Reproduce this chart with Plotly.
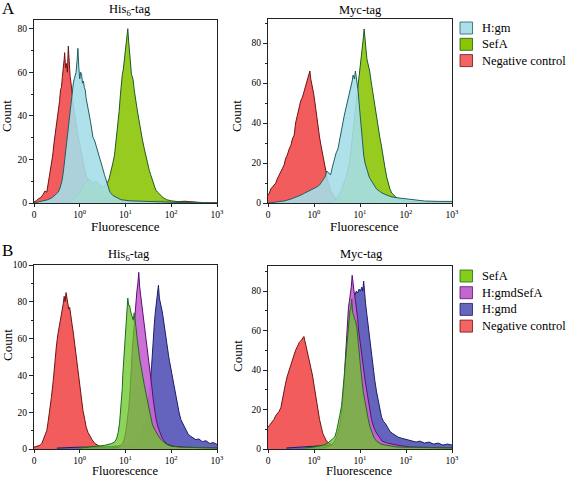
import plotly.graph_objects as go

SERIF = "Liberation Serif"
W, H = 567, 478

# ---------------- data (x in display units: 0 -> "0", 1 -> 10^0, 2 -> 10^1, 3 -> 10^2, 4 -> 10^3) -------------
X_TICKVALS = [0, 1, 2, 3, 4]
X_TICKTEXT = ["0", "10<sup>0</sup>", "10<sup>1</sup>", "10<sup>2</sup>", "10<sup>3</sup>"]

# Panel A, His6-tag
a1_neg_x = [0.00, 0.05, 0.10, 0.15, 0.20, 0.24, 0.28, 0.31, 0.34, 0.38, 0.41, 0.44, 0.46, 0.49, 0.51, 0.53, 0.56, 0.58, 0.60, 0.62, 0.64, 0.66, 0.67, 0.69, 0.71, 0.73, 0.75, 0.77, 0.79, 0.81, 0.83, 0.86, 0.89, 0.92, 0.96, 1.00, 1.05, 1.10, 1.15, 1.20, 1.30, 1.40, 1.55, 1.70, 2.00, 2.40, 2.80, 3.00, 3.30, 3.60, 4.00]
a1_neg_y = [0.5, 1, 2, 2.5, 4, 5.5, 5, 9, 12, 18, 22, 28, 31, 35, 40, 43, 47, 52, 53, 58, 61, 66, 69, 62, 64, 60, 72, 61, 58, 55, 50, 45, 41, 36, 31, 27, 21, 16, 12, 9, 6, 4, 2.5, 1.5, 1, 0.6, 1, 0.5, 0.8, 0.3, 0]
a1_hgm_x = [0.00, 0.10, 0.20, 0.30, 0.40, 0.48, 0.53, 0.57, 0.61, 0.64, 0.67, 0.70, 0.73, 0.76, 0.78, 0.80, 0.82, 0.84, 0.86, 0.88, 0.90, 0.92, 0.94, 0.96, 0.98, 1.00, 1.02, 1.04, 1.06, 1.08, 1.10, 1.12, 1.14, 1.17, 1.20, 1.23, 1.26, 1.29, 1.32, 1.35, 1.38, 1.42, 1.46, 1.50, 1.54, 1.58, 1.62, 1.66, 1.72, 1.80, 1.90, 2.10, 2.40, 2.80, 3.20, 4.00]
a1_hgm_y = [0, 0.5, 1, 1.5, 2.5, 4, 5, 7, 10, 14, 20, 25, 30, 36, 40, 44, 48, 51, 55, 57, 59, 60, 65, 71, 62, 57, 60, 59, 55, 56, 53, 52, 48, 45, 42, 38, 34, 30, 29, 27, 24, 22, 19, 16, 13, 10, 7, 5, 3.5, 2.5, 1.5, 1, 0.8, 0.3, 0.2, 0]
a1_sefa_x = [0.60, 0.80, 0.90, 1.00, 1.05, 1.10, 1.15, 1.20, 1.25, 1.30, 1.35, 1.40, 1.45, 1.50, 1.55, 1.60, 1.64, 1.68, 1.72, 1.76, 1.80, 1.83, 1.86, 1.89, 1.91, 1.93, 1.95, 1.97, 1.99, 2.01, 2.03, 2.05, 2.07, 2.09, 2.11, 2.13, 2.15, 2.17, 2.19, 2.21, 2.24, 2.27, 2.30, 2.33, 2.37, 2.41, 2.45, 2.48, 2.52, 2.55, 2.59, 2.62, 2.66, 2.70, 2.76, 2.82, 2.90, 3.00, 3.20, 3.50, 4.00]
a1_sefa_y = [0, 1, 3, 5, 7, 9, 10, 11, 10, 9, 10, 9, 8, 7, 8, 9, 11, 14, 18, 22, 29, 36, 42, 50, 56, 59, 61, 65, 69, 71, 75, 80, 74, 68, 65, 59, 58, 56, 52, 48, 45, 41, 37, 34, 29, 25, 21, 19, 15, 13, 10, 8, 6, 5, 3.5, 2.5, 1.5, 1, 0.5, 0.3, 0]

# Panel A, Myc-tag
a2_neg_x = [0.00, 0.03, 0.06, 0.10, 0.13, 0.17, 0.20, 0.24, 0.28, 0.31, 0.35, 0.38, 0.42, 0.46, 0.50, 0.53, 0.57, 0.60, 0.64, 0.67, 0.71, 0.75, 0.79, 0.82, 0.86, 0.89, 0.91, 0.93, 0.96, 0.99, 1.01, 1.04, 1.08, 1.12, 1.15, 1.19, 1.23, 1.27, 1.30, 1.34, 1.37, 1.42, 1.48, 1.56, 1.66, 1.90, 2.20, 2.50]
a2_neg_y = [4, 5, 7, 8, 9, 10, 12, 14, 16, 17, 19, 22, 24, 27, 29, 32, 34, 40, 44, 47, 51, 53, 56, 58, 61, 64, 66, 62, 59, 55, 52, 46, 39, 33, 29, 24, 19, 15, 11, 8, 6, 4, 2, 1.5, 1, 0.5, 0.3, 0]
a2_hgm_x = [0.00, 0.20, 0.35, 0.50, 0.62, 0.72, 0.80, 0.90, 1.00, 1.06, 1.12, 1.18, 1.24, 1.28, 1.32, 1.36, 1.40, 1.44, 1.48, 1.52, 1.55, 1.59, 1.62, 1.66, 1.70, 1.74, 1.77, 1.80, 1.83, 1.85, 1.88, 1.90, 1.92, 1.94, 1.96, 1.98, 2.00, 2.02, 2.05, 2.08, 2.11, 2.15, 2.20, 2.25, 2.30, 2.36, 2.42, 2.48, 2.58, 2.70, 2.85, 3.00, 3.20, 3.40, 3.70, 4.00]
a2_hgm_y = [0, 0.5, 1, 2, 3, 4, 5, 6, 7, 8, 9, 11, 13, 16, 15, 14, 18, 22, 25, 27, 31, 36, 40, 44, 48, 52, 55, 57, 61, 64, 62, 66, 63, 61, 56, 50, 44, 38, 30, 24, 20, 17, 13, 11, 9, 7, 6, 5, 4, 3, 2.5, 2, 1.5, 1, 0.8, 0.8]
a2_sefa_x = [1.20, 1.37, 1.48, 1.54, 1.59, 1.65, 1.70, 1.74, 1.77, 1.81, 1.85, 1.88, 1.91, 1.94, 1.96, 1.99, 2.01, 2.03, 2.05, 2.07, 2.09, 2.11, 2.13, 2.15, 2.18, 2.21, 2.24, 2.26, 2.29, 2.32, 2.35, 2.39, 2.43, 2.47, 2.50, 2.54, 2.58, 2.61, 2.65, 2.69, 2.75, 2.80, 2.90, 3.00, 3.30, 4.00]
a2_sefa_y = [0, 0.5, 2, 4, 6, 10, 13, 17, 20, 28, 36, 42, 48, 53, 58, 65, 70, 74, 78, 82, 87, 82, 78, 72, 69, 66, 61, 58, 53, 48, 43, 38, 33, 28, 23, 18, 13, 10, 7, 5, 3.5, 2.5, 1.5, 1, 0.5, 0.3]

# Panel B, His6-tag
b1_neg_x = [0.00, 0.07, 0.13, 0.17, 0.20, 0.24, 0.28, 0.31, 0.35, 0.38, 0.42, 0.45, 0.49, 0.52, 0.55, 0.57, 0.60, 0.62, 0.64, 0.66, 0.68, 0.70, 0.72, 0.74, 0.76, 0.78, 0.80, 0.83, 0.86, 0.89, 0.91, 0.94, 0.97, 1.00, 1.04, 1.07, 1.11, 1.14, 1.18, 1.22, 1.27, 1.33, 1.43, 1.55, 1.70, 2.00]
b1_neg_y = [1, 1.5, 2, 3, 5, 7, 10, 15, 21, 28, 37, 46, 56, 62, 66, 68, 72, 76, 79, 83, 80, 85, 81, 78, 76, 77, 72, 68, 63, 57, 52, 45, 38, 32, 26, 21, 16, 12, 9, 7, 5, 3, 1.5, 1, 0.5, 0]
b1_hgmd_x = [0.50, 1.00, 1.50, 2.00, 2.20, 2.30, 2.38, 2.43, 2.48, 2.51, 2.54, 2.57, 2.59, 2.61, 2.63, 2.65, 2.67, 2.69, 2.71, 2.72, 2.74, 2.76, 2.78, 2.80, 2.82, 2.84, 2.86, 2.88, 2.90, 2.92, 2.94, 2.96, 2.99, 3.02, 3.05, 3.08, 3.11, 3.14, 3.17, 3.21, 3.25, 3.29, 3.33, 3.37, 3.42, 3.48, 3.54, 3.60, 3.68, 3.76, 3.84, 3.92, 4.00]
b1_hgmd_y = [0.5, 1, 1, 2, 4, 6, 10, 14, 20, 27, 35, 45, 55, 62, 68, 74, 78, 83, 86, 89, 82, 80, 78, 75, 72, 68, 65, 62, 58, 55, 51, 48, 44, 40, 36, 31, 27, 23, 20, 16, 14, 12, 10, 8, 7, 6, 5, 5.5, 4, 4.5, 3, 3.5, 2.5]
b1_hgmdsefa_x = [1.70, 1.85, 1.94, 1.98, 2.01, 2.04, 2.07, 2.09, 2.11, 2.13, 2.15, 2.17, 2.19, 2.21, 2.23, 2.25, 2.27, 2.29, 2.31, 2.33, 2.35, 2.37, 2.39, 2.41, 2.43, 2.45, 2.47, 2.49, 2.52, 2.55, 2.58, 2.61, 2.64, 2.67, 2.71, 2.75, 2.80, 2.86, 2.92, 3.05, 3.30, 4.00]
b1_hgmdsefa_y = [0.5, 1, 3, 6, 10, 15, 22, 28, 35, 45, 55, 62, 70, 76, 82, 86, 90, 96, 88, 84, 80, 77, 74, 70, 66, 62, 58, 54, 48, 40, 33, 26, 20, 16, 12, 9, 6, 4, 2.5, 1.5, 1, 0.5]
b1_sefa_x = [1.00, 1.20, 1.40, 1.55, 1.70, 1.77, 1.81, 1.84, 1.87, 1.89, 1.91, 1.93, 1.94, 1.96, 1.98, 1.99, 2.01, 2.03, 2.04, 2.05, 2.07, 2.09, 2.11, 2.13, 2.15, 2.17, 2.19, 2.21, 2.23, 2.25, 2.27, 2.29, 2.31, 2.34, 2.38, 2.41, 2.45, 2.49, 2.52, 2.56, 2.59, 2.63, 2.67, 2.72, 2.78, 2.84, 2.90, 3.00, 3.20, 3.50, 4.00]
b1_sefa_y = [0.5, 1, 1.5, 2, 3, 4, 6, 9, 14, 19, 25, 33, 40, 48, 55, 62, 70, 76, 80, 82, 78, 78, 75, 73, 72, 70, 74, 68, 66, 61, 58, 53, 49, 44, 40, 35, 30, 25, 20, 16, 13, 11, 9, 7, 5, 3.5, 2.5, 1.5, 1, 0.8, 0.5]

# Panel B, Myc-tag
b2_neg_x = [0.00, 0.03, 0.06, 0.10, 0.13, 0.17, 0.20, 0.24, 0.28, 0.31, 0.35, 0.38, 0.42, 0.46, 0.50, 0.53, 0.57, 0.60, 0.64, 0.68, 0.72, 0.75, 0.78, 0.80, 0.83, 0.86, 0.90, 0.93, 0.97, 1.01, 1.05, 1.08, 1.12, 1.16, 1.19, 1.23, 1.27, 1.33, 1.40, 1.55, 1.80, 2.20]
b2_neg_y = [11, 12, 13, 14, 15, 17, 18, 19, 21, 25, 30, 33, 37, 40, 43, 46, 48, 50, 52, 54, 55, 56, 57, 55, 52, 49, 45, 41, 37, 31, 25, 20, 15, 11, 8, 6, 4, 3, 2, 1, 0.5, 0]
b2_hgmd_x = [0.40, 0.80, 1.20, 1.40, 1.52, 1.58, 1.63, 1.67, 1.71, 1.75, 1.78, 1.81, 1.83, 1.86, 1.89, 1.92, 1.95, 1.98, 2.01, 2.04, 2.06, 2.08, 2.10, 2.12, 2.15, 2.18, 2.21, 2.25, 2.28, 2.32, 2.36, 2.39, 2.43, 2.47, 2.51, 2.55, 2.60, 2.65, 2.70, 2.76, 2.83, 2.90, 2.98, 3.06, 3.13, 3.22, 3.30, 3.40, 3.50, 3.60, 3.70, 3.80, 3.90, 4.00]
b2_hgmd_y = [0.5, 1, 1.5, 2, 4, 8, 15, 25, 35, 48, 60, 70, 75, 77, 78, 80, 79, 81, 80, 82, 80, 85, 78, 74, 68, 62, 55, 47, 41, 35, 29, 25, 20, 16, 14, 13, 11, 9, 8, 7, 6, 5.5, 5, 4.5, 4, 3.5, 4, 3, 3.5, 2.5, 3, 2, 2.5, 2]
b2_hgmdsefa_x = [1.20, 1.38, 1.45, 1.49, 1.53, 1.56, 1.60, 1.63, 1.66, 1.68, 1.70, 1.73, 1.75, 1.77, 1.79, 1.81, 1.83, 1.85, 1.87, 1.89, 1.91, 1.93, 1.95, 1.97, 2.00, 2.04, 2.08, 2.11, 2.15, 2.18, 2.22, 2.25, 2.30, 2.36, 2.42, 2.48, 2.60, 2.80, 3.10, 4.00]
b2_hgmdsefa_y = [0.5, 2, 4, 6, 9, 12, 18, 25, 35, 45, 55, 65, 72, 75, 78, 82, 88, 82, 80, 77, 74, 70, 66, 60, 54, 48, 40, 35, 29, 24, 19, 15, 11, 8, 6, 4, 3, 2, 1, 0.5]
b2_sefa_x = [0.80, 1.00, 1.20, 1.30, 1.40, 1.45, 1.49, 1.52, 1.56, 1.60, 1.63, 1.66, 1.68, 1.71, 1.73, 1.74, 1.76, 1.78, 1.80, 1.82, 1.84, 1.86, 1.88, 1.90, 1.93, 1.95, 1.97, 1.99, 2.01, 2.04, 2.07, 2.11, 2.14, 2.18, 2.22, 2.26, 2.31, 2.36, 2.45, 2.55, 2.80, 3.20, 4.00]
b2_sefa_y = [0.5, 1, 2, 3, 5, 6, 9, 12, 17, 22, 30, 38, 45, 52, 58, 62, 66, 70, 71, 76, 69, 68, 66, 65, 62, 58, 53, 47, 42, 35, 29, 24, 19, 15, 11, 8, 5.5, 4, 2.5, 2, 1, 0.8, 0.5]

# ---------------- styles ----------------
C = {
    "neg": ("#f25c5c", "#6e1414"),
    "hgm": ("rgba(165,222,232,0.90)", "#1f5f60"),
    "sefa": ("rgba(138,196,0,0.88)", "#1f5a22"),
    "sefaB": ("rgba(105,198,35,0.75)", "#1d6a22"),
    "hgmdsefa": ("rgba(200,100,212,0.92)", "#5c0f6e"),
    "hgmd": ("#6464be", "#1c1c6a"),
}
LEG_BOX = {
    "neg": "#f36464", "hgm": "#acdfe9", "sefa": "#8cc400", "sefaB": "#86cc1a",
    "hgmdsefa": "#c466d0", "hgmd": "#6666bd",
}

# panel pixel boxes (left, top, right, bottom) and y ranges
PANELS = {
    1: dict(box=(34, 20, 217, 203), yr=84, dtick=20),
    2: dict(box=(268, 19, 452, 203), yr=92, dtick=20),
    3: dict(box=(34, 265, 217, 449), yr=100, dtick=20),
    4: dict(box=(268, 266, 452, 449), yr=92.7, dtick=20),
}

fig = go.Figure()


def add_area(panel, xs, ys, key):
    fc, lc = C[key]
    sfx = "" if panel == 1 else str(panel)
    fig.add_trace(go.Scatter(
        x=xs, y=ys, mode="lines", fill="tozeroy", fillcolor=fc,
        line=dict(color=lc, width=1), xaxis="x" + sfx, yaxis="y" + sfx,
        showlegend=False, hoverinfo="skip"))


# bottom-most first
add_area(1, a1_neg_x, a1_neg_y, "neg")
add_area(1, a1_sefa_x, a1_sefa_y, "sefa")
add_area(1, a1_hgm_x, a1_hgm_y, "hgm")
add_area(2, a2_neg_x, a2_neg_y, "neg")
add_area(2, a2_sefa_x, a2_sefa_y, "sefa")
add_area(2, a2_hgm_x, a2_hgm_y, "hgm")
add_area(3, b1_neg_x, b1_neg_y, "neg")
add_area(3, b1_hgmd_x, b1_hgmd_y, "hgmd")
add_area(3, b1_hgmdsefa_x, b1_hgmdsefa_y, "hgmdsefa")
add_area(3, b1_sefa_x, b1_sefa_y, "sefaB")
add_area(4, b2_neg_x, b2_neg_y, "neg")
add_area(4, b2_hgmd_x, b2_hgmd_y, "hgmd")
add_area(4, b2_hgmdsefa_x, b2_hgmdsefa_y, "hgmdsefa")
add_area(4, b2_sefa_x, b2_sefa_y, "sefaB")

tickfont = dict(family=SERIF, size=9.5, color="black")
layout = dict(width=W, height=H, margin=dict(l=0, r=0, t=0, b=0, autoexpand=False),
              paper_bgcolor="white", plot_bgcolor="white", showlegend=False,
              font=dict(family=SERIF, color="black"))
for p, cfg in PANELS.items():
    l, t, r, b = cfg["box"]
    sfx = "" if p == 1 else str(p)
    layout["xaxis" + sfx] = dict(
        domain=[l / W, r / W], range=[0, 4], tickmode="array", tickvals=X_TICKVALS,
        ticktext=X_TICKTEXT, ticks="outside", ticklen=3, tickcolor="#222",
        showline=True, linecolor="#222", linewidth=1, mirror=True, showgrid=False,
        zeroline=False, tickfont=tickfont, anchor="y" + sfx, fixedrange=True)
    layout["yaxis" + sfx] = dict(
        domain=[1 - b / H, 1 - t / H], range=[0, cfg["yr"]], dtick=cfg["dtick"],
        ticks="outside", ticklen=4, tickcolor="#222",
        minor=dict(dtick=10, ticks="outside", ticklen=2, tickcolor="#222", showgrid=False),
        showline=True, linecolor="#222", linewidth=1, mirror=True, showgrid=False,
        zeroline=False, tickfont=tickfont, anchor="x" + sfx, fixedrange=True)
fig.update_layout(**layout)


def ann(text, px, py, size, angle=0, xanchor="center"):
    fig.add_annotation(text=text, x=px / W, y=1 - py / H, xref="paper", yref="paper",
                       showarrow=False, xanchor=xanchor, yanchor="middle", textangle=angle,
                       borderpad=0, font=dict(family=SERIF, size=size, color="black"))


# panel letters
ann("A", 1, 8, 17, xanchor="left")
ann("B", 1, 250, 17, xanchor="left")
# titles
ann("His<sub>6</sub>-tag", 130, 10, 12.5)
ann("Myc-tag", 360, 10, 12.5)
ann("His<sub>6</sub>-tag", 129, 255, 12.5)
ann("Myc-tag", 361, 254, 12.5)
# axis titles
for (cx, cy, fs) in [(125, 226, 13), (364, 226, 13), (125, 471, 12.5), (359, 471, 12.5)]:
    ann("Fluorescence", cx, cy, fs)
for (cx, cy) in [(7, 116), (237, 116), (7, 345), (237, 356)]:
    ann("Count", cx, cy, 13, angle=-90)


# manual legends
def legend(items, top_center, step):
    for i, (label, key) in enumerate(items):
        cy = top_center + i * step
        fig.add_shape(type="rect", xref="paper", yref="paper",
                      x0=460 / W, x1=472.5 / W, y0=1 - (cy + 6) / H, y1=1 - (cy - 6) / H,
                      fillcolor=LEG_BOX[key], line=dict(color=C[key][1], width=0.8))
        ann(label, 481, cy, 12.5, xanchor="left")


legend([("H:gm", "hgm"), ("SefA", "sefa"), ("Negative control", "neg")], 28, 16.3)
legend([("SefA", "sefaB"), ("H:gmdSefA", "hgmdsefa"), ("H:gmd", "hgmd"),
        ("Negative control", "neg")], 276, 16.7)

fig.write_html("out.html", config={"displayModeBar": False},
               post_script="document.body.style.margin='0px';")
